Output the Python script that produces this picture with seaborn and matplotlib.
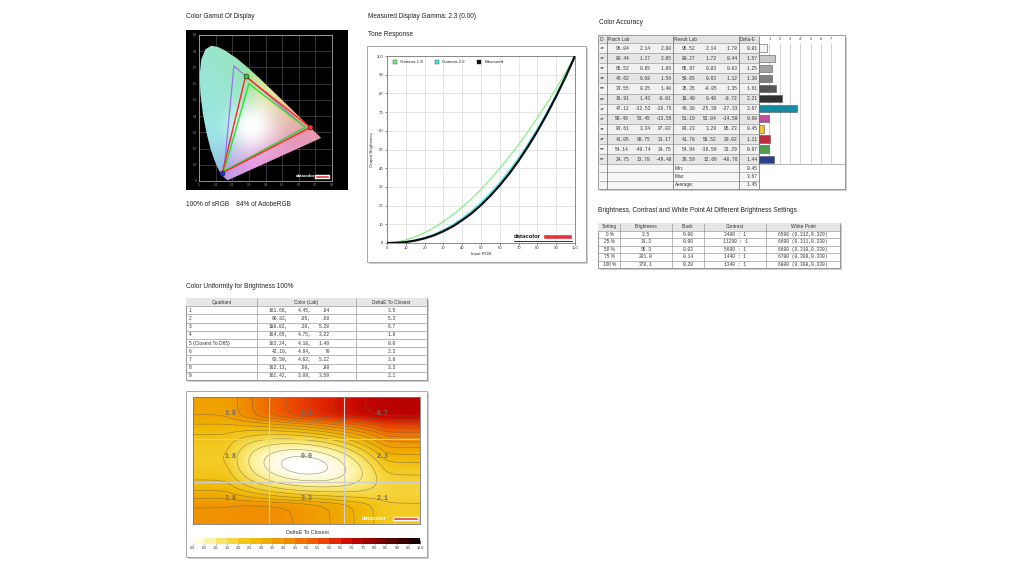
import numpy as np
import pandas as pd
import matplotlib
matplotlib.use("Agg")
import matplotlib.pyplot as plt
import seaborn as sns
from matplotlib.patches import Rectangle, Polygon
from matplotlib.lines import Line2D
from matplotlib.colors import LinearSegmentedColormap

# ---------------- data ----------------
# Tone response (every 5 %)
tone_x = [0, 5, 10, 15, 20, 25, 30, 35, 40, 45, 50, 55, 60, 65, 70, 75, 80, 85, 90, 95, 100]
gamma18 = [0, 0.5, 1.6, 3.3, 5.5, 8.2, 11.5, 15.1, 19.2, 23.7, 28.7, 34.1, 39.9, 46.1, 52.6, 59.6, 66.9, 74.6, 82.7, 91.2, 100]
gamma22 = [0, 0.1, 0.6, 1.5, 2.9, 4.7, 7.1, 9.9, 13.3, 17.3, 21.8, 26.8, 32.5, 38.8, 45.6, 53.1, 61.2, 69.9, 79.3, 89.3, 100]
measured = [0, 0.1, 0.5, 1.3, 2.5, 4.1, 6.3, 8.9, 12.2, 15.9, 20.3, 25.3, 30.9, 37.1, 44.0, 51.6, 59.8, 68.8, 78.5, 88.9, 100]

# Color accuracy
ids = ['1E', '2E', '3E', '4E', '5E', '6E', '1F', '2F', '3F', '4F', '5F', '6F']
patch_L = [96.04, 80.44, 65.52, 49.62, 33.55, 16.91, 47.12, 50.49, 83.61, 41.05, 54.14, 24.75]
patch_a = [2.14, 1.17, 0.65, 0.58, 0.35, 1.43, -32.52, 53.45, 3.34, 60.75, -40.74, 13.78]
patch_b = [2.80, 2.05, 1.86, 1.56, 1.40, -0.01, -28.75, -13.55, 87.02, 31.17, 34.75, -49.48]
res_L = [95.52, 80.27, 65.97, 50.05, 35.35, 18.40, 49.30, 51.19, 83.23, 41.78, 54.94, 26.59]
res_a = [2.14, 1.72, 0.83, 0.63, -0.05, 0.48, -25.39, 52.04, 3.29, 58.52, -39.59, 12.66]
res_b = [1.78, 0.44, 0.63, 1.12, 1.35, -0.72, -27.33, -14.50, 85.23, 29.02, 33.29, -48.76]
delta_e = [0.81, 1.57, 1.25, 1.30, 1.61, 2.21, 3.67, 0.98, 0.45, 1.11, 0.97, 1.44]
bar_colors = ['#f4f4f4', '#c8c8c8', '#a2a2a2', '#7f7f7f', '#555555', '#303030',
              '#168aa2', '#c0509e', '#f2c234', '#c02a40', '#4e9e52', '#27418e']
de_min, de_max, de_avg = 0.45, 3.67, 1.45

# Brightness / contrast / white point
settings = ['0 %', '25 %', '50 %', '75 %', '100 %']
brightness = [3.5, 31.3, 95.3, 201.0, 370.1]
black = [0.00, 0.00, 0.02, 0.14, 0.28]
contrast = [3480, 11290, 5600, 1440, 1340]
cct = [6500, 6600, 6600, 6700, 6800]
wp_x = [0.312, 0.311, 0.310, 0.309, 0.308]
wp_y = [0.329, 0.330, 0.330, 0.330, 0.330]

# Uniformity
quadrants = ['1', '2', '3', '4', '5 (Closest To D65)', '6', '7', '8', '9']
lab_L = ['161.66,', '60.82,', '188.82,', '164.65,', '163.24,', '42.10,', '63.50,', '162.13,', '161.42,']
lab_a = ['4.45,', '.05,', '.30,', '4.75,', '4.18,', '4.94,', '4.62,', '.90,', '3.09,']
lab_b = ['.04', '.60', '5.28', '3.22', '1.49', '70', '5.22', '.80', '3.59']
uni_de = [3.5, 5.3, 6.7, 1.8, 0.0, 2.3, 3.8, 3.3, 2.1]

# Gamut triangles (CIE xy)
adobe_x, adobe_y = [0.64, 0.21, 0.15], [0.33, 0.71, 0.06]
srgb_x, srgb_y = [0.64, 0.30, 0.15], [0.33, 0.60, 0.06]
meas_x, meas_y = [0.67, 0.28, 0.14], [0.33, 0.645, 0.05]
locus_x = [0.1741, 0.1714, 0.1644, 0.1566, 0.1440, 0.1241, 0.1096, 0.0913, 0.0687, 0.0454, 0.0235,
           0.0082, 0.0039, 0.0139, 0.0389, 0.0743, 0.1142, 0.1547, 0.2296, 0.3016, 0.3731, 0.4441,
           0.5125, 0.5752, 0.6270, 0.6658, 0.6915, 0.7190, 0.7347]
locus_y = [0.0050, 0.0051, 0.0109, 0.0177, 0.0297, 0.0578, 0.0868, 0.1327, 0.2007, 0.2950, 0.4127,
           0.5384, 0.6548, 0.7502, 0.8120, 0.8338, 0.8262, 0.8059, 0.7543, 0.6923, 0.6245, 0.5547,
           0.4866, 0.4242, 0.3725, 0.3340, 0.3083, 0.2809, 0.2653]

# ---------------- setup ----------------
sns.set_theme(style="white")
SANS = ['Liberation Sans', 'DejaVu Sans']
MONO = ['Liberation Mono', 'DejaVu Sans Mono']
plt.rcParams['font.family'] = SANS

W, H = 1024, 576
fig = plt.figure(figsize=(10.24, 5.76), dpi=100)
fig.patch.set_facecolor('white')


def pax(x0, y0, x1, y1):
    return fig.add_axes([x0 / W, 1 - y1 / H, (x1 - x0) / W, (y1 - y0) / H])


bg = pax(0, 0, W, H)
bg.set_xlim(0, W)
bg.set_ylim(H, 0)
bg.axis('off')


def rect(x0, y0, x1, y1, fc='white', ec='none', lw=0.5, z=1):
    bg.add_patch(Rectangle((x0, y0), x1 - x0, y1 - y0, facecolor=fc, edgecolor=ec, linewidth=lw, zorder=z))


def frame(x0, y0, x1, y1):
    rect(x0 + 2, y0 + 2, x1 + 2, y1 + 2, fc='#cdcdcd', z=0.5)
    rect(x0, y0, x1, y1, fc='white', ec='#9a9a9a', lw=0.6, z=1)


def hl(y, x0, x1, c='#8a8a8a', lw=0.4):
    bg.plot([x0, x1], [y, y], color=c, lw=lw, zorder=3, solid_capstyle='butt')


def vl(x, y0, y1, c='#8a8a8a', lw=0.4):
    bg.plot([x, x], [y0, y1], color=c, lw=lw, zorder=3, solid_capstyle='butt')


def txt(x, y, s, size=3.6, ha='left', fam=None, color='#333333', **kw):
    bg.text(x, y, s, fontsize=size, ha=ha, va='center', family=fam or SANS, color=color, zorder=4, **kw)


TITLE = 4.7

# ---------------- titles ----------------
txt(186, 17, 'Color Gamut Of Display', TITLE, color='#222')
txt(186, 204, '100% of sRGB    84% of AdobeRGB', TITLE, color='#222')
txt(368, 17, 'Measured Display Gamma: 2.3 (0.00)', TITLE, color='#222')
txt(368, 34, 'Tone Response', TITLE, color='#222')
txt(599, 22, 'Color Accuracy', TITLE, color='#222')
txt(598, 210, 'Brightness, Contrast and White Point At Different Brightness Settings', TITLE, color='#222')
txt(186, 287, 'Color Uniformity for Brightness 100%', TITLE, color='#222')

# ---------------- gamut ----------------
gbox = pax(186, 30, 348, 190)
gbox.set_facecolor('black')
gbox.set_xticks([]); gbox.set_yticks([])
for s in gbox.spines.values():
    s.set_visible(False)

ga = pax(199, 35, 332, 181)
ga.set_facecolor('black')
ga.set_xlim(0, 0.8)
ga.set_ylim(0, 0.9)
ga.set_xticks(np.arange(0, 0.81, 0.1))
ga.set_yticks(np.arange(0, 0.91, 0.1))
ga.set_xticklabels(['0'] + [f'{v:.1f}' for v in np.arange(0.1, 0.81, 0.1)])
ga.set_yticklabels(['0'] + [f'{v:.1f}' for v in np.arange(0.1, 0.91, 0.1)])
ga.tick_params(labelsize=2.2, colors='#9a9a9a', length=0, pad=1.5)
ga.grid(True, color='#4a4a4a', lw=0.5)
for s in ga.spines.values():
    s.set_color('#a8a8a8'); s.set_linewidth(0.6)

N = 360
gxs = np.linspace(0, 0.8, N)
gys = np.linspace(0.002, 0.9, N)
GX, GY = np.meshgrid(gxs, gys)
XYZ = np.stack([GX / GY, np.ones_like(GX), (1 - GX - GY) / GY], -1)
Msrgb = np.array([[3.2406, -1.5372, -0.4986], [-0.9689, 1.8758, 0.0415], [0.0557, -0.2040, 1.0570]])
rgb = XYZ @ Msrgb.T
rgb = rgb - np.minimum(rgb.min(-1, keepdims=True), 0)
rgb = rgb / rgb.max(-1, keepdims=True)
rgb = np.clip(rgb, 0, 1) ** (1 / 2.2)
rgb = 0.3 * rgb + 0.6
glow = np.exp(-((GX - 0.32) ** 2 + (GY - 0.34) ** 2) / (2 * 0.09 ** 2))
rgb = rgb * (1 - glow[..., None]) + glow[..., None]
rgb = np.clip(rgb, 0, 1)
im = ga.imshow(rgb, extent=[0, 0.8, 0, 0.9], origin='lower', aspect='auto', zorder=1, interpolation='bilinear')
clip = Polygon(np.column_stack([locus_x, locus_y]), closed=True, transform=ga.transData)
im.set_clip_path(clip)
halo = np.zeros((N, N, 4))
halo[..., :3] = 1
halo[..., 3] = 0.45 * np.exp(-((GX - 0.38) ** 2 + (GY - 0.40) ** 2) / (2 * 0.07 ** 2))
ga.imshow(halo, extent=[0, 0.8, 0, 0.9], origin='lower', aspect='auto', zorder=0.9)
ga.set_xlim(0, 0.8); ga.set_ylim(0, 0.9)

ga.fill(adobe_x, adobe_y, fill=False, ec='#a070f0', lw=0.9, zorder=3)
ga.fill(srgb_x, srgb_y, fill=False, ec='#30e030', lw=1.0, zorder=3)
ga.fill(meas_x, meas_y, fill=False, ec='#ff2424', lw=1.0, zorder=4)
for mx, my, mc in zip(meas_x, meas_y, ['#ff3030', '#40c040', '#2030e0']):
    ga.plot(mx, my, 'o', ms=3.6, mfc=mc, mec='#202020', mew=0.4, zorder=5)
ga.text(0.58, 0.03, 'datacolor', fontsize=3.2, color='white', fontweight='bold', va='center', zorder=6)
ga.add_patch(Rectangle((0.695, 0.02), 0.085, 0.018, facecolor='#e8303a', zorder=6))

# ---------------- tone response ----------------
frame(367, 46, 586, 262)
ta = pax(387, 56, 575, 243)
ta.set_xlim(0, 100)
ta.set_ylim(0, 100)
tone_df = pd.DataFrame({'x': tone_x * 3,
                        'y': gamma18 + gamma22 + measured,
                        'series': ['Gamma 1.8'] * 21 + ['Gamma 2.2'] * 21 + ['Measured'] * 21})
tone_style = {'Gamma 1.8': ('#78f078', 0.8), 'Gamma 2.2': ('#40eeee', 0.8), 'Measured': ('#0a0a14', 1.6)}
for name, (col, lw) in tone_style.items():
    sns.lineplot(data=tone_df[tone_df.series == name], x='x', y='y', color=col, lw=lw, ax=ta, zorder=3)
ta.set_xticks(range(0, 101, 10))
ta.set_yticks(range(0, 101, 10))
ta.tick_params(labelsize=3.0, colors='#333', length=1.5, width=0.4, pad=1, left=True, bottom=True)
ta.grid(True, color='#dcdcdc', lw=0.5)
for s in ta.spines.values():
    s.set_color('#777'); s.set_linewidth(0.6)
ta.set_xlabel('Input RGB', fontsize=3.2, labelpad=1, color='#333')
ta.set_ylabel('Output Brightness', fontsize=3.2, labelpad=2, color='#333')
handles = [Line2D([], [], ls='none', marker='s', ms=2.6, mfc=tone_style[k][0], mec='#333', mew=0.3, label=k)
           for k in tone_style]
ta.legend(handles=handles, loc='upper left', ncol=3, frameon=False, fontsize=3.2, handletextpad=0.2,
          columnspacing=2.2, bbox_to_anchor=(0.0, 0.995), borderaxespad=0.3)
ta.text(0.675, 0.036, 'datacolor', transform=ta.transAxes, fontsize=4.3, fontweight='bold', color='#111',
        va='center', zorder=6)
ta.add_patch(Rectangle((0.83, 0.024), 0.155, 0.026, transform=ta.transAxes, facecolor='#e8303a', zorder=6))
ta.plot([0.675, 0.985], [0.012, 0.012], transform=ta.transAxes, color='#111', lw=0.6, zorder=6)

# ---------------- color accuracy table ----------------
CA_X = [599, 607, 673, 739, 759, 843]
hdr = 43
rh = (164.3 - 43) / 12
rect(598 + 2, 35 + 2, 845 + 2, 189 + 2, fc='#cdcdcd', z=0.5)
rect(598, 35, 845, 189, fc='white', ec='#8a8a8a', lw=0.6, z=1)
rect(599, 35.5, 759, 43, fc='#e4e4e4', z=1.5)
for i in range(12):
    y0 = hdr + i * rh
    rect(599, y0, 759, y0 + rh, fc='#f1f1f1' if i % 2 == 0 else '#e6e6e6', z=1.5)
for k, lab in enumerate(['Min:', 'Max:', 'Average:']):
    y0 = 164.3 + k * 8.1
    rect(599, y0, 759, y0 + 8.1, fc='#f6f6f6', z=1.5)
    txt(674.5, y0 + 4.2, lab, 3.4)
    txt(758, y0 + 4.2, f'{[de_min, de_max, de_avg][k]:.2f}', 3.3, ha='right', fam=MONO)
for i in range(13):
    hl(hdr + i * rh, 599, 759, c='#9a9a9a', lw=0.5)
for k in range(1, 3):
    hl(164.3 + k * 8.1, 599, 759, c='#9a9a9a', lw=0.5)
hl(188.6, 599, 845, c='#9a9a9a', lw=0.5)
hl(164.3, 759, 845, c='#9a9a9a', lw=0.5)
for x in CA_X[1:5]:
    vl(x, 35.5, 188.6, c='#666', lw=0.5)
txt(600, 39.3, 'ID', 3.4)
txt(608.5, 39.3, 'Patch Lab', 3.4)
txt(674.5, 39.3, 'Result Lab', 3.4)
txt(740, 39.3, 'Delta-E', 3.4)
num_cols = [(629, patch_L), (650.5, patch_a), (671.5, patch_b), (695.5, res_L), (717, res_a), (737.5, res_b),
            (758, delta_e)]
for i in range(12):
    yc = hdr + (i + 0.5) * rh
    txt(599.8, yc, ids[i], 3.0, fam=MONO)
    for xr, arr in num_cols:
        txt(xr, yc, f'{arr[i]:.2f}', 3.3, ha='right', fam=MONO)

ba = pax(759, 43, 843, 164.3)
ba.patch.set_alpha(0)
bar_df = pd.DataFrame({'id': ids, 'de': delta_e})
sns.barplot(data=bar_df, x='de', y='id', hue='id', palette=bar_colors, legend=False, orient='h', ax=ba,
            width=0.72, edgecolor='#555', linewidth=0.4, saturation=1)
ba.set_xlim(0, 8.15)
ba.set_xticks(range(1, 8))
ba.xaxis.tick_top()
ba.tick_params(axis='x', labelsize=2.8, length=0, pad=1.2, colors='#333')
ba.set_yticks([])
ba.set_xlabel('')
ba.set_ylabel('')
ba.grid(True, axis='x', color='#b4b4b4', lw=0.4)
ba.set_axisbelow(True)
for s in ba.spines.values():
    s.set_visible(False)

# ---------------- brightness table ----------------
BX = [599, 620, 672, 704, 766, 840]
by0, brh = 223, 7.5
rect(598 + 2, by0 + 2, 840 + 2, by0 + 6 * brh + 2, fc='#cdcdcd', z=0.5)
rect(598, by0, 840, by0 + 6 * brh, fc='white', ec='#8a8a8a', lw=0.6, z=1)
rect(598, by0, 840, by0 + brh, fc='#e6e6e6', z=1.5)
for i in range(1, 6):
    hl(by0 + i * brh, 598, 840, c='#9a9a9a', lw=0.5)
for x in BX[1:5]:
    vl(x, by0, by0 + 6 * brh, c='#9a9a9a', lw=0.5)
for j, h in enumerate(['Setting', 'Brightness', 'Black', 'Contrast', 'White Point']):
    txt((BX[j] + BX[j + 1]) / 2, by0 + brh / 2, h, 3.4, ha='center')
for i in range(5):
    yc = by0 + (i + 1.5) * brh
    txt((BX[0] + BX[1]) / 2, yc, settings[i], 3.4, ha='center')
    txt((BX[1] + BX[2]) / 2, yc, f'{brightness[i]:.1f}', 3.3, ha='center', fam=MONO)
    txt((BX[2] + BX[3]) / 2, yc, f'{black[i]:.2f}', 3.3, ha='center', fam=MONO)
    txt((BX[3] + BX[4]) / 2, yc, f'{contrast[i]} : 1', 3.3, ha='center', fam=MONO)
    txt((BX[4] + BX[5]) / 2, yc, f'{cct[i]} ({wp_x[i]:.3f},{wp_y[i]:.3f})', 3.3, ha='center', fam=MONO)

# ---------------- uniformity table ----------------
UX = [186, 257, 356, 427]
uy0, urh = 298, 8.2
rect(186 + 2, uy0 + 2, 427 + 2, uy0 + 10 * urh + 2, fc='#cdcdcd', z=0.5)
rect(186, uy0, 427, uy0 + 10 * urh, fc='white', ec='#8a8a8a', lw=0.6, z=1)
rect(186, uy0, 427, uy0 + urh, fc='#e6e6e6', z=1.5)
for i in range(1, 10):
    hl(uy0 + i * urh, 186, 427, c='#9a9a9a', lw=0.5)
for x in UX[1:3]:
    vl(x, uy0, uy0 + 10 * urh, c='#9a9a9a', lw=0.5)
for j, h in enumerate(['Quadrant', 'Color (Lab)', 'DeltaE To Closest']):
    txt((UX[j] + UX[j + 1]) / 2, uy0 + urh / 2, h, 3.4, ha='center')
for i in range(9):
    yc = uy0 + (i + 1.5) * urh
    txt(189, yc, quadrants[i], 3.5)
    txt(288, yc, lab_L[i], 3.3, ha='right', fam=MONO)
    txt(311, yc, lab_a[i], 3.3, ha='right', fam=MONO)
    txt(330, yc, lab_b[i], 3.3, ha='right', fam=MONO)
    txt((UX[2] + UX[3]) / 2, yc, f'{uni_de[i]:.1f}', 3.3, ha='center', fam=MONO)

# ---------------- uniformity heat map ----------------
frame(186, 391, 427, 557)
stops = ['#ffffff', '#fff8c4', '#fbec84', '#f7dc52', '#f4cc28', '#f2bf10', '#f0b200', '#f0a400', '#f09400',
         '#f08000', '#f06800', '#ee5000', '#e83800', '#d81c00', '#c40400', '#a80000', '#880000', '#680000',
         '#480000', '#280000', '#000000']
cmap = LinearSegmentedColormap.from_list('de', stops)

grid = np.array(uni_de).reshape(3, 3)
nx, ny = 300, 170
u = np.linspace(0, 3, nx)   # columns, in cell units
v = np.linspace(0, 3, ny)   # rows, in cell units


def soft_clamp(t, lo=0.5, hi=2.5, s=0.07):
    t = np.asarray(t, dtype=float).copy()
    low = t < lo
    t[low] = lo - s * (1 - np.exp(-(lo - t[low]) / s))
    high = t > hi
    t[high] = hi + s * (1 - np.exp(-(t[high] - hi) / s))
    return t


def lagrange3(t):
    t = soft_clamp(t)
    c = np.array([0.5, 1.5, 2.5])
    L = []
    for i in range(3):
        li = np.ones_like(t)
        for j in range(3):
            if j != i:
                li = li * (t - c[j]) / (c[i] - c[j])
        L.append(li)
    return np.array(L)


Lu = lagrange3(u)   # 3 x nx
Lv = lagrange3(v)   # 3 x ny
Z = np.clip(Lv.T @ grid @ Lu, 0, 10)

ha = pax(193, 397, 420, 524)
ha.imshow(Z, extent=[0, 3, 3, 0], cmap=cmap, vmin=0, vmax=10, aspect='auto', interpolation='bilinear')
ha.contour(u, v, Z, levels=[0.12] + list(np.arange(0.5, 9.6, 0.5)),
           colors='#6e6040', linewidths=0.4, alpha=0.7)
for val in (1, 2):
    ha.axvline(val, color='#cfcfcf', lw=0.8)
    ha.axhline(val, color='#cfcfcf', lw=0.8)
ha.set_xlim(0, 3)
ha.set_ylim(3, 0)
ha.set_xticks([]); ha.set_yticks([])
for s in ha.spines.values():
    s.set_color('#777'); s.set_linewidth(0.6)
for r in range(3):
    for c in range(3):
        ha.text(c + 0.5, r + 0.4, f'{grid[r, c]:.1f}', ha='center', va='center', fontsize=4.8,
                family=MONO, color='#6a6a6a', fontweight='bold')
ha.text(2.23, 2.86, 'datacolor', fontsize=4.0, color='white', fontweight='bold', va='center')
ha.add_patch(Rectangle((2.64, 2.83), 0.33, 0.07, facecolor='#e8303a'))

txt(307, 533, 'DeltaE To Closest', 3.9, ha='center', color='#333')
cb = pax(193, 538, 420, 544)
mids = np.arange(0.25, 10, 0.5)
sns.heatmap(mids[None, :], cmap=cmap, vmin=0, vmax=10, cbar=False, ax=cb, linewidths=0)
cb.set_xticks(np.arange(0, 21))
cb.set_xticklabels([f'{val:.1f}' for val in np.arange(0, 10.01, 0.5)], rotation=0)
cb.set_yticks([])
cb.tick_params(axis='x', bottom=True, length=3, width=0.5, color='#222', direction='in', labelsize=2.7,
               pad=1.5, labelcolor='#333')

fig.savefig('out.png', dpi=100, facecolor='white')
